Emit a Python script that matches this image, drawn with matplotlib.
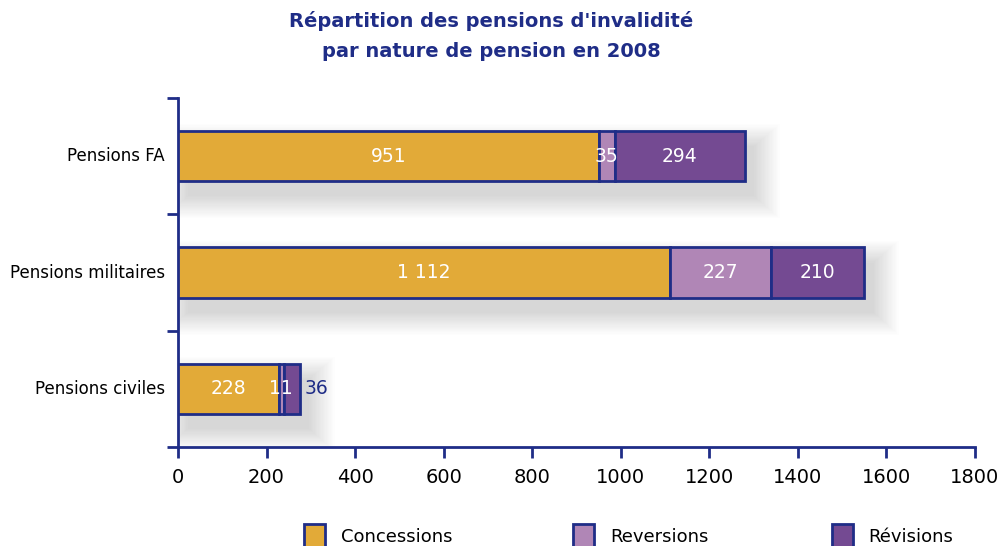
import numpy as np
import matplotlib.pyplot as plt
from matplotlib.patches import Rectangle

# data
categories = ['Pensions civiles', 'Pensions militaires', 'Pensions FA']
concessions = [228, 1112, 951]
reversions = [11, 227, 35]
revisions = [36, 210, 294]
concessions_txt = ['228', '1 112', '951']
reversions_txt = ['11', '227', '35']
revisions_txt = ['36', '210', '294']
series_names = ['Concessions', 'Reversions', 'Révisions']
colors = ['#E2AA38', '#B086B6', '#744A92']
navy = '#1F2D87'

fig = plt.figure(figsize=(10.02, 5.46), dpi=100)
ax = fig.add_axes([0.1776, 0.1813, 0.7954, 0.6392])

y = np.arange(len(categories))
h = 0.43
totals = np.array(concessions) + np.array(reversions) + np.array(revisions)

# soft shadow under the bars
for i in range(len(categories)):
    for k in range(20):
        gx = k * 3.0
        gy = k * 0.01
        ax.add_patch(Rectangle((22 - gx, y[i] - h / 2 - 0.13 - gy),
                               totals[i] + 2 * gx, h + 2 * gy,
                               facecolor='black', edgecolor='none',
                               alpha=0.009, zorder=1))

left = np.zeros(len(categories))
series = [concessions, reversions, revisions]
texts = [concessions_txt, reversions_txt, revisions_txt]
for n, (vals, col, name, txts) in enumerate(zip(series, colors, series_names, texts)):
    ax.barh(y, vals, height=h, left=left, color=col, edgecolor=navy,
            linewidth=2, label=name, zorder=3)
    for i, v in enumerate(vals):
        if n == 2 and i == 0:
            # small segment: label sits outside the bar
            ax.text(left[i] + v + 12, y[i], txts[i], ha='left', va='center',
                    color=navy, fontsize=13.5, zorder=4)
        else:
            ax.text(left[i] + v / 2, y[i], txts[i], ha='center', va='center',
                    color='white', fontsize=13.5, zorder=4)
    left = left + np.array(vals)

ax.set_xlim(0, 1800)
ax.set_ylim(-0.5, 2.5)
ax.set_xticks(np.arange(0, 1801, 200))
ax.set_xticklabels([str(v) for v in range(0, 1801, 200)], fontsize=14)
ax.set_yticks([-0.5, 0.5, 1.5, 2.5])
ax.set_yticklabels([])
ax.tick_params(axis='x', direction='out', length=8, width=2, color=navy, pad=7)
ax.tick_params(axis='y', direction='out', length=8, width=2, color=navy)
for i, c in enumerate(categories):
    ax.text(-30, y[i], c, ha='right', va='center', fontsize=12)

for s in ['top', 'right']:
    ax.spines[s].set_visible(False)
for s in ['left', 'bottom']:
    ax.spines[s].set_color(navy)
    ax.spines[s].set_linewidth(2)

fig.text(0.49, 0.98, "Répartition des pensions d'invalidité\npar nature de pension en 2008",
         ha='center', va='top', fontsize=14, fontweight='bold', color=navy,
         linespacing=1.75)

# legend along the bottom
leg_x = [0.303, 0.572, 0.830]
for xl, col, name in zip(leg_x, colors, series_names):
    fig.patches.append(Rectangle((xl, -0.01), 0.021, 0.05, transform=fig.transFigure,
                                 facecolor=col, edgecolor=navy, linewidth=2))
    fig.text(xl + 0.037, 0.0, name, ha='left', va='bottom', fontsize=13)

fig.savefig('out.png', dpi=100)
